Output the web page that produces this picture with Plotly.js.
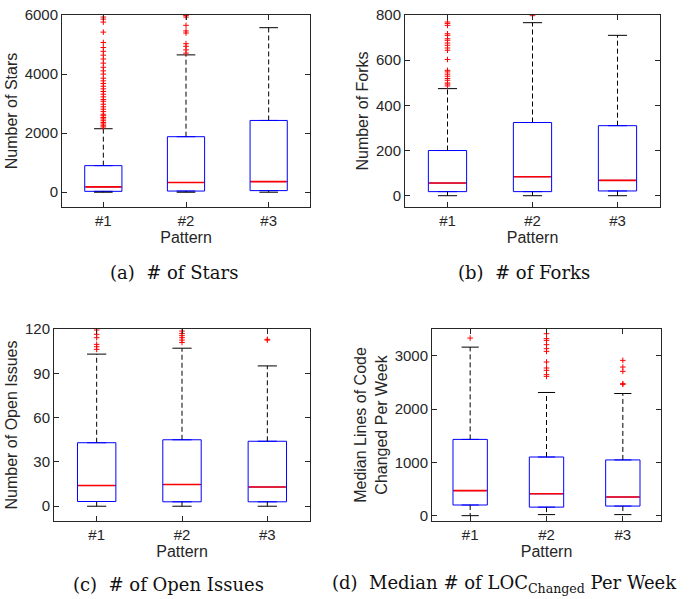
<!DOCTYPE html>
<html>
<head>
<meta charset="utf-8">
<script src="https://cdn.plot.ly/plotly-3.0.1.min.js"></script>
<style>html,body{margin:0;padding:0;background:#fff;}#chart{width:699px;height:599px;}</style>
</head>
<body>
<div id="chart"></div>
<script>
// ---- Data ----
const categories = ['#1', '#2', '#3'];

// (a) Number of Stars
const starsLow  = [0, 0, 0];
const starsQ1   = [30, 40, 55];
const starsMed  = [180, 330, 360];
const starsQ3   = [900, 1880, 2430];
const starsHigh = [2150, 4650, 5570];
const starsOut1 = [5930, 5860, 5760, 5420, 5070, 4900, 4770, 4640, 4510, 4370, 4230, 4110, 4000, 3860, 3770, 3680, 3590, 3500, 3410, 3320, 3230, 3140, 3080, 2980, 2890, 2810, 2730, 2640, 2590, 2530, 2480, 2420, 2360, 2310, 2250, 2210];
const starsOut2 = [5980, 5930, 5650, 5460, 5390, 5030, 4940, 4820, 4710];
const starsOut3 = [];

// (b) Number of Forks
const forksLow  = [0, 0, 0];
const forksQ1   = [18, 18, 21];
const forksMed  = [56, 84, 68];
const forksQ3   = [200, 324, 310];
const forksHigh = [474, 766, 710];
const forksOut1 = [769, 762, 754, 717, 710, 695, 688, 676, 666, 654, 644, 603, 555, 548, 538, 529, 519, 511, 499, 494, 486];
const forksOut2 = [797];
const forksOut3 = [];

// (c) Number of Open Issues
const issuesLow  = [0, 0, 0];
const issuesQ1   = [3.2, 3, 3];
const issuesMed  = [14, 14.7, 13];
const issuesQ3   = [43, 45, 44];
const issuesHigh = [103, 107, 95];
const issuesOut1 = [119.3, 116.4, 114.1, 109.6, 108, 106.2];
const issuesOut2 = [118.6, 117, 115.5, 114.1, 112.5, 110.9];
const issuesOut3 = [113, 112.5];

// (d) Median Lines of Code Changed Per Week
const locLow  = [0, 20, 20];
const locQ1   = [200, 160, 180];
const locMed  = [470, 410, 350];
const locQ3   = [1430, 1100, 1045];
const locHigh = [3160, 2310, 2290];
const locOut1 = [3330];
const locOut2 = [3412, 3319, 3287, 3206, 3131, 3081, 2881, 2769, 2725, 2644, 2612];
const locOut3 = [2912, 2787, 2706, 2475, 2462];

// ---- Build traces ----
const BOXW = 0.45, CAPW = 0.225;
const positions = [1, 2, 3];

function panel(xa, ya, low, q1, med, q3, high, outs) {
  const tr = [];
  tr.push({
    type: 'box', x: positions, q1: q1, median: med, q3: q3,
    lowerfence: q1, upperfence: q3, width: BOXW,
    line: {color: '#0000ff', width: 1}, fillcolor: 'rgba(0,0,0,0)',
    boxpoints: false, hoverinfo: 'skip', showlegend: false, xaxis: xa, yaxis: ya
  });
  const wx = [], wy = [], cx = [], cy = [], mx = [], my = [];
  positions.forEach((p, i) => {
    wx.push(p, p, null, p, p, null);
    wy.push(q3[i], high[i], null, q1[i], low[i], null);
    cx.push(p - CAPW / 2, p + CAPW / 2, null, p - CAPW / 2, p + CAPW / 2, null);
    cy.push(high[i], high[i], null, low[i], low[i], null);
    mx.push(p - BOXW / 2 + 0.01, p + BOXW / 2 - 0.01, null);
    my.push(med[i], med[i], null);
  });
  tr.push({type: 'scatter', mode: 'lines', x: wx, y: wy, line: {color: '#000', width: 1, dash: '5px,3px'}, hoverinfo: 'skip', showlegend: false, xaxis: xa, yaxis: ya});
  tr.push({type: 'scatter', mode: 'lines', x: cx, y: cy, line: {color: '#000', width: 1}, hoverinfo: 'skip', showlegend: false, xaxis: xa, yaxis: ya});
  tr.push({type: 'scatter', mode: 'lines', x: mx, y: my, line: {color: '#ff0000', width: 1.6}, hoverinfo: 'skip', showlegend: false, xaxis: xa, yaxis: ya});
  const ox = [], oy = [];
  outs.forEach((arr, i) => arr.forEach(v => { ox.push(positions[i]); oy.push(v); }));
  tr.push({type: 'scatter', mode: 'markers', x: ox, y: oy, cliponaxis: true,
    marker: {symbol: 'cross-thin', size: 4, color: '#ff0000', line: {color: '#ff0000', width: 1}},
    hoverinfo: 'skip', showlegend: false, xaxis: xa, yaxis: ya});
  return tr;
}

const data = [].concat(
  panel('x', 'y', starsLow, starsQ1, starsMed, starsQ3, starsHigh, [starsOut1, starsOut2, starsOut3]),
  panel('x2', 'y2', forksLow, forksQ1, forksMed, forksQ3, forksHigh, [forksOut1, forksOut2, forksOut3]),
  panel('x3', 'y3', issuesLow, issuesQ1, issuesMed, issuesQ3, issuesHigh, [issuesOut1, issuesOut2, issuesOut3]),
  panel('x4', 'y4', locLow, locQ1, locMed, locQ3, locHigh, [locOut1, locOut2, locOut3])
);

// ---- Layout ----
const W = 699, H = 599;
const txtColor = '#262626';
const tickFont = {family: 'Liberation Sans, Arial, sans-serif', size: 15, color: txtColor};
const titleFont = {family: 'Liberation Sans, Arial, sans-serif', size: 16, color: txtColor};

function xax(l, r, anchor) {
  return {
    domain: [l / W, r / W], anchor: anchor, range: [0.5, 3.5],
    tickmode: 'array', tickvals: positions, ticktext: categories,
    ticks: 'inside', ticklen: 5, tickwidth: 1, tickcolor: txtColor,
    showline: true, linecolor: txtColor, linewidth: 1, mirror: 'allticks',
    showgrid: false, zeroline: false, tickfont: tickFont,
    title: {text: 'Pattern', font: titleFont, standoff: 1}
  };
}
function yax(t, b, anchor, range, tickvals, title) {
  return {
    domain: [1 - b / H, 1 - t / H], anchor: anchor, range: range,
    tickmode: 'array', tickvals: tickvals,
    ticks: 'inside', ticklen: 5, tickwidth: 1, tickcolor: txtColor,
    showline: true, linecolor: txtColor, linewidth: 1, mirror: 'allticks',
    showgrid: false, zeroline: false, tickfont: tickFont,
    title: {text: title, font: titleFont, standoff: 3}
  };
}

const capFont = {family: 'DejaVu Serif, serif', size: 18, color: '#111'};
const layout = {
  width: W, height: H, margin: {l: 0, r: 0, t: 0, b: 0},
  paper_bgcolor: '#fff', plot_bgcolor: '#fff', showlegend: false,
  xaxis:  xax(62, 310, 'y'),
  xaxis2: xax(405, 660, 'y2'),
  xaxis3: xax(54, 310, 'y3'),
  xaxis4: xax(432, 661, 'y4'),
  yaxis:  yax(15, 207, 'x',  [-500, 6000], [0, 2000, 4000, 6000], 'Number of Stars'),
  yaxis2: yax(15, 207, 'x2', [-50, 800], [0, 200, 400, 600, 800], 'Number of Forks'),
  yaxis3: yax(329, 521, 'x3', [-10, 120], [0, 30, 60, 90, 120], 'Number of Open Issues'),
  yaxis4: yax(329, 521, 'x4', [-100, 3500], [0, 1000, 2000, 3000], 'Median Lines of Code<br>Changed Per Week'),
  annotations: [
    {text: '(a)  # of Stars', x: 174 / W, y: 1 - 272 / H, xref: 'paper', yref: 'paper', showarrow: false, font: capFont, xanchor: 'center', yanchor: 'middle'},
    {text: '(b)  # of Forks', x: 524 / W, y: 1 - 272 / H, xref: 'paper', yref: 'paper', showarrow: false, font: capFont, xanchor: 'center', yanchor: 'middle'},
    {text: '(c)  # of Open Issues', x: 168 / W, y: 1 - 584 / H, xref: 'paper', yref: 'paper', showarrow: false, font: capFont, xanchor: 'center', yanchor: 'middle'},
    {text: '(d)  Median # of LOC<sub>Changed</sub> Per Week', x: 504 / W, y: 1 - 584 / H, xref: 'paper', yref: 'paper', showarrow: false, font: capFont, xanchor: 'center', yanchor: 'middle'}
  ]
};

Plotly.newPlot('chart', data, layout, {staticPlot: true, displayModeBar: false});
</script>
</body>
</html>
